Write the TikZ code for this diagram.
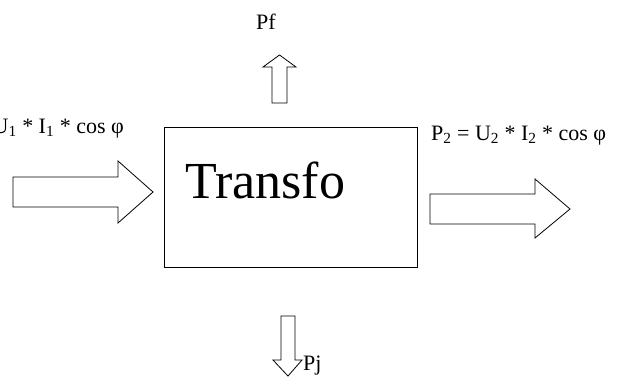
\documentclass[tikz,border=0pt]{standalone}
\usepackage{fontspec}
\setmainfont{Liberation Serif}
\begin{document}
\begin{tikzpicture}[x=1pt,y=-1pt,
  blockarrow/.style={draw=black,line width=0.8pt,fill=white,line join=miter},
  lbl/.style={inner sep=0pt,font=\fontsize{22}{24}\selectfont},
  boxstyle/.style={draw=black,line width=0.9pt}]
\useasboundingbox (0,0) rectangle (623,381);
\clip (0,0) rectangle (623,381);
% main box
\node[boxstyle,minimum width=253pt,minimum height=140pt,inner sep=0pt,anchor=north west] (box) at (164,127) {};
\node[inner sep=0pt,anchor=base west,font=\fontsize{52}{56}\selectfont] (title) at (185,198) {Transfo};
% left arrow
\draw[blockarrow] (13,177) -- (118,177) -- (118,161) -- (153,192) -- (118,223) -- (118,207) -- (13,207) -- cycle;
% right arrow
\draw[blockarrow] (430,194) -- (535,194) -- (535,179) -- (570,209) -- (535,238) -- (535,224) -- (430,224) -- cycle;
% top arrow
\draw[blockarrow] (272,103) -- (272,67) -- (263,67) -- (279.5,55) -- (296,67) -- (287,67) -- (287,103) -- cycle;
% bottom arrow
\draw[blockarrow] (281,316) -- (281,360) -- (273,360) -- (288,376) -- (302,360) -- (295,360) -- (295,316) -- cycle;
% labels
\node[lbl,anchor=base east] (pin) at (124,133) {P\textsubscript{1} = U\textsubscript{1} * I\textsubscript{1} * cos φ};
\node[lbl,anchor=base west] (pout) at (431,140) {P\textsubscript{2} = U\textsubscript{2} * I\textsubscript{2} * cos φ};
\node[lbl,anchor=base west] (pf) at (256,29) {Pf};
\node[lbl,anchor=base west] (pj) at (303,370) {Pj};
\end{tikzpicture}
\end{document}
